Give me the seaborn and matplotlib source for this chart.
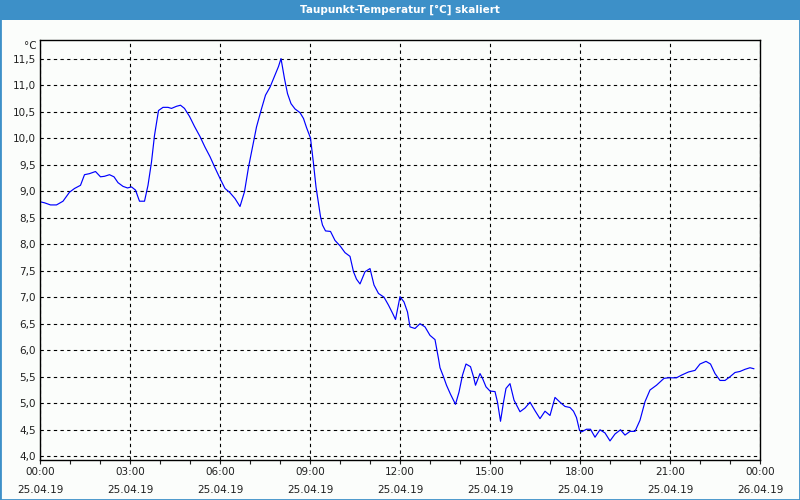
import numpy as np
import pandas as pd
import matplotlib
matplotlib.use("Agg")
import matplotlib.pyplot as plt
from matplotlib.patches import Rectangle
from matplotlib.ticker import MultipleLocator
import seaborn as sns

# minutes after 25.04.19 00:00 and dew point [°C]
minutes = [0, 9, 21, 33, 46, 59, 69, 81, 89, 99, 111, 121, 129, 139, 148, 156, 166, 175,
           183, 191, 199, 209, 216, 223, 229, 237, 246, 256, 263, 273, 281, 289, 299, 309,
           320, 330, 340, 350, 360, 370, 380, 390, 400, 409, 417, 425, 433, 442, 451, 460,
           470, 477, 482, 489, 495, 502, 510, 520, 527, 533,
           541, 547, 552, 557, 561, 565, 571, 581, 590, 600, 610, 620, 627, 633, 640, 650,
           660, 668, 677, 688, 697, 705, 711, 720, 728, 735, 740, 750, 760, 770, 780, 790, 797,
           800, 807, 813, 821, 831, 838, 845, 852, 861, 867, 871, 880, 885, 892, 900, 910,
           915, 921, 927, 932, 940, 948, 960, 970, 980, 990, 1000, 1010, 1020, 1030, 1040,
           1050, 1060, 1067, 1073, 1079, 1083, 1093, 1101, 1110,
           1120, 1130, 1140, 1150, 1161, 1170, 1180, 1190, 1200, 1210, 1220, 1233, 1248,
           1257, 1273, 1283, 1297, 1310, 1320, 1332, 1341, 1350, 1360, 1370, 1380, 1390,
           1400, 1410, 1420, 1428]
dewpoint = [8.80, 8.78, 8.74, 8.74, 8.81, 8.98, 9.05, 9.11, 9.31, 9.33, 9.37, 9.27, 9.28, 9.31,
            9.27, 9.16, 9.09, 9.06, 9.08, 9.02, 8.81, 8.81, 9.11, 9.55, 10.05, 10.52, 10.58,
            10.58, 10.56, 10.60, 10.62, 10.56, 10.41, 10.22,
            10.03, 9.83, 9.65, 9.44, 9.24, 9.05, 8.97, 8.86, 8.71, 8.99, 9.45, 9.83, 10.21,
            10.52, 10.81, 10.96, 11.19, 11.35, 11.50, 11.12, 10.84, 10.65, 10.55, 10.48,
            10.37, 10.20,
            10.00, 9.52, 9.08, 8.77, 8.52, 8.36, 8.25, 8.24, 8.07, 7.97, 7.84, 7.77, 7.48,
            7.34, 7.25, 7.48, 7.54, 7.23, 7.07, 7.00, 6.85, 6.70, 6.58, 7.01, 6.91, 6.72,
            6.44, 6.41, 6.50, 6.44, 6.28, 6.20, 5.84,
            5.67, 5.50, 5.34, 5.17, 4.98, 5.21, 5.53, 5.74, 5.69, 5.50, 5.34, 5.56, 5.47,
            5.31, 5.23, 5.22, 5.02, 4.66, 5.02, 5.28, 5.37, 5.06, 4.84, 4.91, 5.02, 4.86,
            4.71, 4.85, 4.77, 5.11, 5.02, 4.94, 4.92, 4.85, 4.73, 4.49, 4.46, 4.51, 4.51, 4.36,
            4.50, 4.44, 4.29, 4.42, 4.50, 4.40, 4.47, 4.47, 4.68, 5.03, 5.25, 5.34, 5.47,
            5.48, 5.48, 5.53, 5.59, 5.62, 5.74, 5.79, 5.74, 5.56, 5.43, 5.43, 5.50, 5.58,
            5.60, 5.64, 5.67, 5.65]

tick_hours = [0, 3, 6, 9, 12, 15, 18, 21, 24]
tick_times = ["00:00", "03:00", "06:00", "09:00", "12:00", "15:00", "18:00", "21:00", "00:00"]
tick_dates = ["25.04.19"] * 8 + ["26.04.19"]
y_ticks = [4.0, 4.5, 5.0, 5.5, 6.0, 6.5, 7.0, 7.5, 8.0, 8.5, 9.0, 9.5, 10.0, 10.5, 11.0, 11.5]

df = pd.DataFrame({"hours": np.array(minutes) / 60, "dewpoint": dewpoint})

sns.set_style("white")
plt.rcParams["font.family"] = ["DejaVu Sans"]

bg = "#fbfdfb"
frame_blue = "#3d90c8"

fig = plt.figure(figsize=(8, 5), dpi=100, facecolor=bg)
ax = fig.add_axes([0.05, 0.08, 0.9, 0.84])
ax.set_facecolor(bg)

sns.lineplot(data=df, x="hours", y="dewpoint", ax=ax, color="#0000ff", linewidth=0.85)

ax.set_xlim(0, 24)
ax.set_ylim(3.93, 11.85)
ax.set_xlabel("")
ax.set_ylabel("")

ax.set_xticks(tick_hours, labels=[f"{t}\n{d}" for t, d in zip(tick_times, tick_dates)])
ax.xaxis.set_minor_locator(MultipleLocator(1))
ax.set_yticks(y_ticks, labels=[f"{v:.1f}".replace(".", ",") for v in y_ticks])
for lab in ax.get_xticklabels():
    lab.set_linespacing(2.0)

ax.tick_params(axis="x", which="both", direction="out", length=3, width=0.8,
               bottom=True, labelsize=7.5, pad=2, colors="#202020")
ax.tick_params(axis="y", length=0, labelsize=7.5, pad=3, colors="#202020")

ax.grid(True, which="major", color="black", linestyle=(0, (3, 3)), linewidth=0.8)
for sp in ax.spines.values():
    sp.set_color("black")
    sp.set_linewidth(1.0)

ax.text(-0.004, 0.998, "°C", transform=ax.transAxes, ha="right", va="top",
        fontsize=7.5, color="#202020")

# title bar and frame
fig.add_artist(Rectangle((0, 0.96), 1, 0.04, transform=fig.transFigure,
                         facecolor=frame_blue, edgecolor="none"))
fig.add_artist(Rectangle((0, 0), 1, 1, transform=fig.transFigure, fill=False,
                         edgecolor=frame_blue, linewidth=2))
fig.text(0.5, 0.98, "Taupunkt-Temperatur [°C] skaliert", color="white",
         ha="center", va="center", fontsize=7.5, fontweight="bold")

fig.savefig("out.png", dpi=100, facecolor=bg)
